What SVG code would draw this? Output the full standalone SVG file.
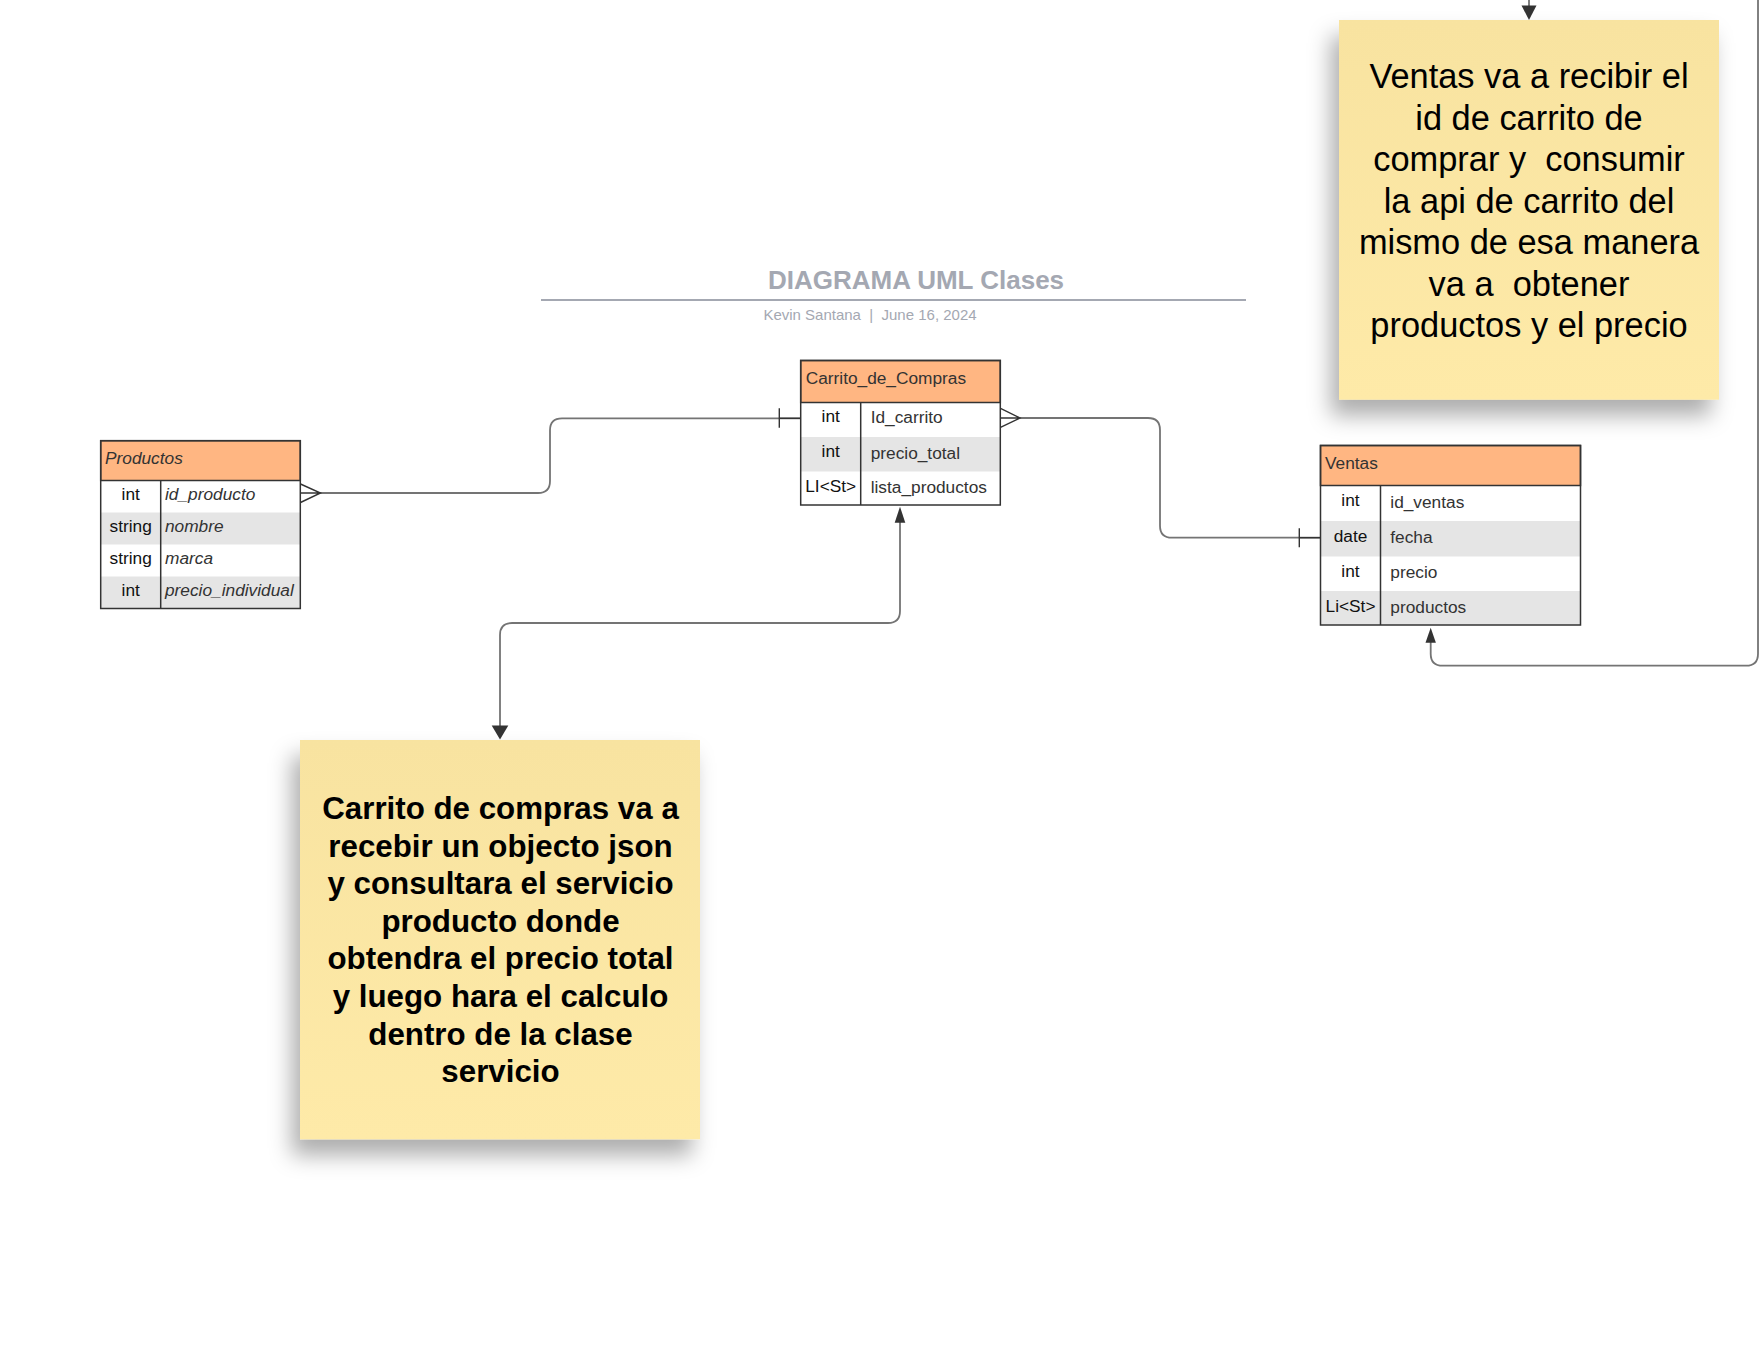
<svg xmlns="http://www.w3.org/2000/svg" width="1759" height="1359" viewBox="0 0 1759 1359">
<defs>
<style>
text{font-family:"Liberation Sans",Arial,sans-serif;}
.hdr{fill:#ffb682;stroke:#333;stroke-width:1.5;}
.box{fill:none;stroke:#333;stroke-width:1.5;}
.row{fill:#e5e5e5;}
.div{stroke:#333;stroke-width:1.5;}
.ht{font-size:17.3px;fill:#333;}
.ty{font-size:17.3px;fill:#111;text-anchor:middle;}
.nm{font-size:17.3px;fill:#333;}
.it{font-style:italic;}
.cn{fill:none;stroke:#747474;stroke-width:1.8;}
.cf{fill:none;stroke:#333;stroke-width:1.4;}
.ah{fill:#333;}
.note{fill:url(#ng);filter:url(#sh);}
.n1{font-size:34.4px;fill:#000;text-anchor:middle;white-space:pre;}
.n2{font-size:31.3px;font-weight:bold;fill:#000;text-anchor:middle;}
</style>
<linearGradient id="ng" x1="0" y1="0" x2="0" y2="1">
<stop offset="0" stop-color="#f8e3a0"/>
<stop offset="1" stop-color="#feeaa8"/>
</linearGradient>
<filter id="sh" x="-20%" y="-20%" width="140%" height="150%">
<feDropShadow dx="-8" dy="16" stdDeviation="11" flood-color="#000" flood-opacity="0.32"/>
</filter>
</defs>
<rect width="1759" height="1359" fill="#fff"/>

<g id="title">
<text x="916" y="289" font-size="26" font-weight="bold" fill="#a4a8b2" text-anchor="middle">DIAGRAMA UML Clases</text>
<line x1="541" y1="300" x2="1246" y2="300" stroke="#a4a8b2" stroke-width="2"/>
<text x="870" y="320" font-size="15" fill="#a4a8b2" text-anchor="middle" style="white-space:pre">Kevin Santana  |  June 16, 2024</text>
</g>

<g id="connectors">
<path class="cn" d="M320,493 H538 Q550,493 550,481 V430.3 Q550,418.3 562,418.3 H800.5"/>
<path class="cf" d="M300.5,484 L320.5,493 L300.5,502.5 M300.5,493 H321"/>
<line class="cf" x1="779.3" y1="408.3" x2="779.3" y2="427.7"/>
<line class="cf" x1="779.3" y1="418.3" x2="800.5" y2="418.3"/>

<path class="cn" d="M1020,418 H1148 Q1160,418 1160,430 V525.7 Q1160,537.7 1172,537.7 H1320.5"/>
<path class="cf" d="M1000.5,408.3 L1020,418 L1000.5,427.3 M1000.5,418 H1020"/>
<line class="cf" x1="1299.3" y1="528.3" x2="1299.3" y2="547.3"/>
<line class="cf" x1="1299.3" y1="537.7" x2="1320.5" y2="537.7"/>

<path class="cn" d="M500,726 V635 Q500,623 512,623 H888 Q900,623 900,611 V521"/>
<polygon class="ah" points="900,506.7 894.7,522.7 905.3,522.7"/>
<polygon class="ah" points="500,739.5 491.7,725.5 508.3,725.5"/>

<path class="cn" d="M1430.7,641 V653.7 Q1430.7,665.7 1442.7,665.7 H1746 Q1758,665.7 1758,653.7 V-20 H1529 V7"/>
<polygon class="ah" points="1430.7,627.7 1425.5,642.7 1435.9,642.7"/>
<polygon class="ah" points="1529,20 1521.5,5.5 1536.5,5.5"/>
</g>

<g id="productos">
<rect class="hdr" x="100.7" y="440.7" width="199.6" height="39.8"/>
<rect class="row" x="100.7" y="512.5" width="199.6" height="32"/>
<rect class="row" x="100.7" y="576.5" width="199.6" height="32"/>
<rect class="box" x="100.7" y="440.7" width="199.6" height="167.8"/>
<line class="div" x1="160.7" y1="480.5" x2="160.7" y2="608.5"/>
<text class="ht it" x="105" y="464">Productos</text>
<text class="ty" x="130.7" y="500">int</text>
<text class="nm it" x="165" y="500">id_producto</text>
<text class="ty" x="130.7" y="532">string</text>
<text class="nm it" x="165" y="532">nombre</text>
<text class="ty" x="130.7" y="564">string</text>
<text class="nm it" x="165" y="564">marca</text>
<text class="ty" x="130.7" y="596">int</text>
<text class="nm it" x="165" y="596">precio_individual</text>
</g>

<g id="carrito">
<rect class="hdr" x="800.7" y="360.5" width="199.6" height="42"/>
<rect class="row" x="800.7" y="437" width="199.6" height="34.5"/>
<rect class="box" x="800.7" y="360.5" width="199.6" height="144.5"/>
<line class="div" x1="860.7" y1="402.5" x2="860.7" y2="505"/>
<text class="ht" x="805.7" y="384.3">Carrito_de_Compras</text>
<text class="ty" x="830.7" y="421.7">int</text>
<text class="nm" x="870.7" y="423.3">Id_carrito</text>
<text class="ty" x="830.7" y="456.5">int</text>
<text class="nm" x="870.7" y="458.5">precio_total</text>
<text class="ty" x="830.7" y="491.5">LI&lt;St&gt;</text>
<text class="nm" x="870.7" y="493.3">lista_productos</text>
</g>

<g id="ventas">
<rect class="hdr" x="1320.5" y="445.5" width="260" height="40"/>
<rect class="row" x="1320.5" y="521" width="260" height="35.5"/>
<rect class="row" x="1320.5" y="591" width="260" height="34"/>
<rect class="box" x="1320.5" y="445.5" width="260" height="179.5"/>
<line class="div" x1="1380.5" y1="485.5" x2="1380.5" y2="625"/>
<text class="ht" x="1325" y="469.3">Ventas</text>
<text class="ty" x="1350.5" y="506">int</text>
<text class="nm" x="1390.3" y="508.3">id_ventas</text>
<text class="ty" x="1350.5" y="541.7">date</text>
<text class="nm" x="1390.3" y="543.3">fecha</text>
<text class="ty" x="1350.5" y="576.7">int</text>
<text class="nm" x="1390.3" y="578.3">precio</text>
<text class="ty" x="1350.5" y="611.7">Li&lt;St&gt;</text>
<text class="nm" x="1390.3" y="613.3">productos</text>
</g>

<g id="note-ventas">
<rect class="note" x="1339" y="20" width="380" height="379.7"/>
<text class="n1" x="1529" y="88.3">Ventas va a recibir el</text>
<text class="n1" x="1529" y="129.8">id de carrito de</text>
<text class="n1" x="1529" y="171.3">comprar y  consumir</text>
<text class="n1" x="1529" y="212.8">la api de carrito del</text>
<text class="n1" x="1529" y="254.3">mismo de esa manera</text>
<text class="n1" x="1529" y="295.8">va a  obtener</text>
<text class="n1" x="1529" y="337.3">productos y el precio</text>
</g>

<g id="note-carrito">
<rect class="note" x="300" y="740" width="400" height="399.3"/>
<text class="n2" x="500.5" y="819">Carrito de compras va a</text>
<text class="n2" x="500.5" y="856.6">recebir un objecto json</text>
<text class="n2" x="500.5" y="894.2">y consultara el servicio</text>
<text class="n2" x="500.5" y="931.8">producto donde</text>
<text class="n2" x="500.5" y="969.4">obtendra el precio total</text>
<text class="n2" x="500.5" y="1007">y luego hara el calculo</text>
<text class="n2" x="500.5" y="1044.6">dentro de la clase</text>
<text class="n2" x="500.5" y="1082.2">servicio</text>
</g>
</svg>
